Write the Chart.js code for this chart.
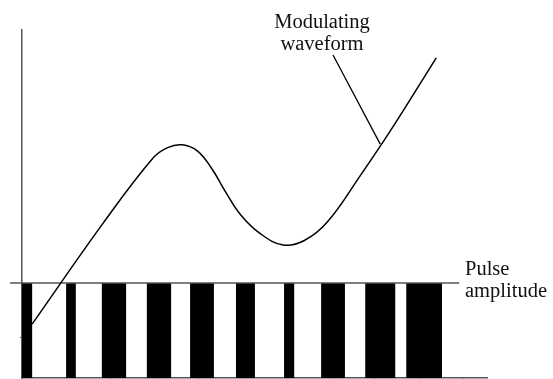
<!DOCTYPE html>
<html lang="en">
<head>
  <meta charset="UTF-8">
  <title>Pulse width modulation</title>
  <script src="https://cdn.jsdelivr.net/npm/chart.js"></script>
  <style>
    html, body {
      margin: 0;
      padding: 0;
      background: #ffffff;
    }

    .wrap {
      position: relative;
      width: 553px;
      height: 379px;
    }

    .label {
      position: absolute;
      font-family: 'Liberation Serif', 'Times New Roman', serif;
      font-size: 20.5px;
      line-height: 22px;
      color: #111;
      white-space: nowrap;
    }

    #modLabel {
      left: 272px;
      top: 10px;
      width: 100px;
      text-align: center;
    }

    #pulseLabel {
      left: 465px;
      top: 257px;
    }
  </style>
</head>
<body>
  <div class="wrap">
    <canvas id="chart"></canvas>
    <div class="label" id="modLabel">Modulating<br>waveform</div>
    <div class="label" id="pulseLabel">Pulse<br>amplitude</div>
  </div>

  <script>
    // x unit = one tick interval, y unit = arbitrary height
    const xTicks = [1, 2, 3, 4, 5, 6, 7, 8, 9, 10];
    const yTicks = [1.15];

    // modulating waveform
    const curveX = [0.23, 1.84, 2.97, 3.30, 3.63, 3.98, 4.30, 4.60, 4.95, 5.40, 5.92, 6.40, 6.92, 7.66, 8.40, 9.39];
    const curveY = [1.55, 4.45, 6.32, 6.62, 6.70, 6.52, 6.02, 5.38, 4.70, 4.15, 3.82, 3.95, 4.48, 5.80, 7.20, 9.20];

    // pulses (start / end of each black pulse)
    const pulseStart = [0.00, 1.00, 1.81, 2.83, 3.81, 4.85, 5.94, 6.78, 7.78, 8.71];
    const pulseEnd   = [0.23, 1.22, 2.36, 3.38, 4.35, 5.28, 6.17, 7.32, 8.46, 9.52];
    const pulseLevel = 2.73;

    // amplitude reference line and label leader
    const levelX = [-0.27, 9.91];
    const leaderX = [7.05, 8.12];
    const leaderY = [9.28, 6.72];

    const curveData = curveX.map((x, i) => ({ x: x, y: curveY[i] }));

    const pulseData = [];
    pulseStart.forEach((s, i) => {
      pulseData.push({ x: s, y: 0 }, { x: s, y: pulseLevel },
                     { x: pulseEnd[i], y: pulseLevel }, { x: pulseEnd[i], y: 0 });
    });

    const levelData = levelX.map(x => ({ x: x, y: pulseLevel }));
    const leaderData = leaderX.map((x, i) => ({ x: x, y: leaderY[i] }));

    const axisColor = '#555';

    new Chart(document.getElementById('chart'), {
      type: 'scatter',
      data: {
        datasets: [
          {
            data: curveData,
            showLine: true,
            borderColor: '#000',
            borderWidth: 1.5,
            pointRadius: 0,
            tension: 0.4
          },
          {
            data: leaderData,
            showLine: true,
            borderColor: '#000',
            borderWidth: 1.3,
            pointRadius: 0,
            clip: false
          },
          {
            data: levelData,
            showLine: true,
            borderColor: axisColor,
            borderWidth: 1.5,
            pointRadius: 0,
            clip: false
          },
          {
            data: pulseData,
            showLine: true,
            borderWidth: 0,
            borderColor: 'rgba(0,0,0,0)',
            backgroundColor: '#000',
            pointRadius: 0,
            tension: 0,
            fill: 'origin'
          }
        ]
      },
      options: {
        responsive: true,
        maintainAspectRatio: false,
        animation: false,
        layout: {
          padding: { left: 22, right: 66, top: 30, bottom: 1 }
        },
        plugins: {
          legend: { display: false },
          tooltip: { enabled: false }
        },
        scales: {
          x: {
            type: 'linear',
            min: 0,
            max: 10.54,
            afterBuildTicks: s => { s.ticks = xTicks.map(v => ({ value: v })); },
            afterFit: s => { s.height = 0; },
            ticks: { display: false },
            grid: { drawOnChartArea: false, drawTicks: true, tickLength: 4, color: axisColor, lineWidth: 1 },
            border: { display: true, color: axisColor, width: 1.5 }
          },
          y: {
            type: 'linear',
            min: 0,
            max: 10,
            afterBuildTicks: s => { s.ticks = yTicks.map(v => ({ value: v })); },
            afterFit: s => { s.width = 0; },
            ticks: { display: false },
            grid: { drawOnChartArea: false, drawTicks: true, tickLength: 2, color: axisColor, lineWidth: 1 },
            border: { display: true, color: axisColor, width: 1.5 }
          }
        }
      }
    });
  </script>
</body>
</html>
